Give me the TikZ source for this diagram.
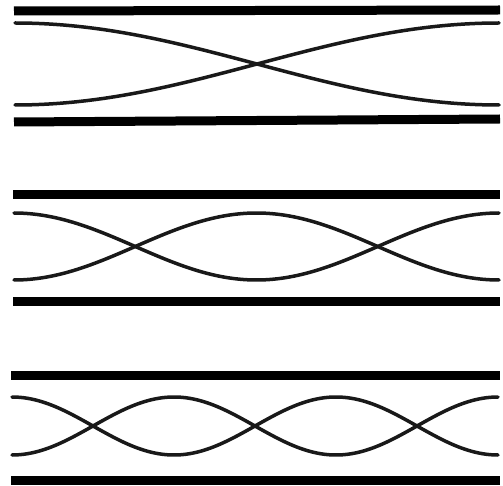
\documentclass[tikz,border=0pt]{standalone}
\begin{document}
\begin{tikzpicture}[x=1pt,y=-1pt,
  bar/.style={line width=9pt,black},
  wave/.style={line width=3.5pt,black!90,line cap=round}]
\useasboundingbox[fill=white] (0,0) rectangle (503,486);
% panel 1
\draw[bar] (14,11) -- (500,10);
\draw[bar] (14,122) -- (500,119);
\draw[wave] plot[domain=15:499,samples=120] (\x,{64+41*cos(0.371901*(\x-15))});
\draw[wave] plot[domain=15:499,samples=120] (\x,{64-41*cos(0.371901*(\x-15))});
% panel 2
\draw[bar] (13,194.5) -- (500,194.5);
\draw[bar] (13,301) -- (500,301);
\draw[wave] plot[domain=14:499,samples=150] (\x,{246.5-33.5*cos(0.742268*(\x-14))});
\draw[wave] plot[domain=14:499,samples=150] (\x,{246.5+33.5*cos(0.742268*(\x-14))});
% panel 3
\draw[bar] (11,375) -- (500,375);
\draw[bar] (11,480) -- (500,480);
\draw[wave] plot[domain=12:498,samples=180] (\x,{426-29*cos(1.111111*(\x-12))});
\draw[wave] plot[domain=12:498,samples=180] (\x,{426+29*cos(1.111111*(\x-12))});
\end{tikzpicture}
\end{document}
